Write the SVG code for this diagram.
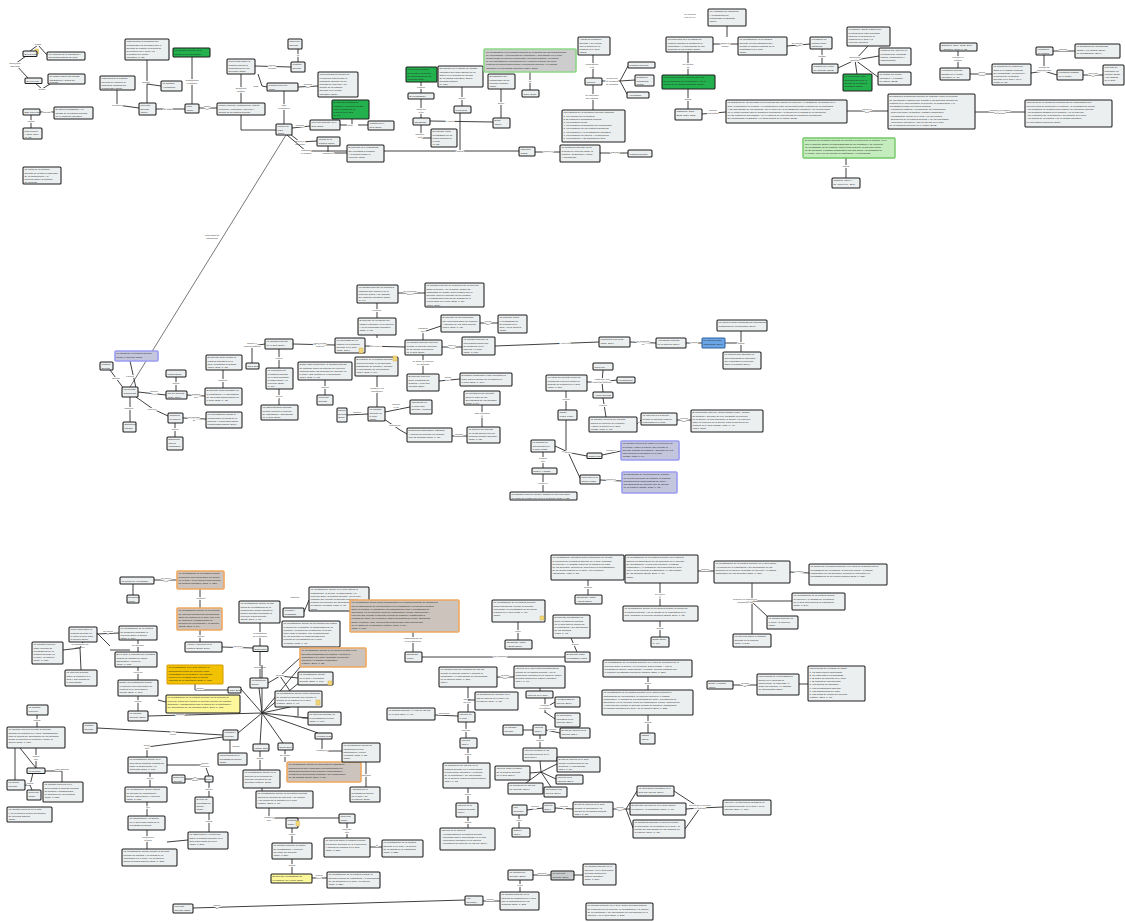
<svg xmlns="http://www.w3.org/2000/svg" width="1125" height="922" viewBox="0 0 1125 922">
<style>
.n rect{fill:#eceff0;stroke:#1e1e1e;stroke-width:1.05}
.g rect{fill:#23b14d}
.lg rect{fill:#c4ecbd;stroke:#72c866;stroke-width:1.4}
.gb rect{fill:#cdcdcd;stroke:#8bd886;stroke-width:1.6}
.o rect{fill:#cbc3bc;stroke:#f0a860;stroke-width:1.6}
.y rect{fill:#fbf79a}
.go rect{fill:#f2c200;stroke:#d89c00}
.b rect{fill:#c4c6de;stroke:#9a9cf0;stroke-width:1.6}
.bb rect{fill:#6aa6e6;stroke:#33609e}
.dk rect{fill:#c9cbcc}
text{font-family:"Liberation Sans",Arial,sans-serif;font-size:2.45px;fill:#222}
.c path{stroke:#2a2a2a;stroke-width:0.9;fill:none}
.c .long{stroke:#555;stroke-width:0.8}
.l{font-size:2.4px;fill:#333;text-anchor:middle;stroke:#fff;stroke-width:1.5px;paint-order:stroke}
.tag{fill:#f4d878;stroke:#c9a640;stroke-width:0.4}
</style>

<!-- connectors -->
<g id="connectors" class="c">
<path d="M30,51 L38,45 L47,55"/><text class="l" x="38" y="45">busca</text>
<path d="M26,56 L15,64 L28,78"/><text class="l" x="15" y="64">Diferentes</text><text class="l" x="15" y="67">aspectos</text>
<path d="M35,83 L42,89 L50,84"/><text class="l" x="42" y="90">busca</text>
<path d="M40,112 L54,112"/><text class="l" x="47" y="113">difunde</text>
<path d="M31,115 L31,128"/><text class="l" x="31" y="122">consta</text>

<path d="M117,90 L117,105 L139,108"/><text class="l" x="117" y="106">se define</text>
<path d="M147,103 L147,60"/><text class="l" x="146" y="83">aborda</text>
<path d="M147,84 L161,86"/>
<path d="M156,109 L185,109"/><text class="l" x="168" y="110">se basa</text>
<path d="M192,104 L192,57"/><text class="l" x="192" y="81">fundamenta</text><text class="l" x="192" y="84">el modelo</text>
<path d="M199,108 L217,108"/><text class="l" x="207" y="107">aplica</text><text class="l" x="207" y="110">en</text>
<path d="M241,103 L241,74"/><text class="l" x="241" y="89">desarrolla</text><text class="l" x="241" y="92">modelo</text>
<path d="M241,115 L241,130 L276,130"/>
<path d="M255,66 L291,67"/><text class="l" x="272" y="66">realiza</text><text class="l" x="272" y="69">revisión</text>
<path d="M298,62 L298,49"/><text class="l" x="298" y="56">en</text>
<path d="M258,74 L262,86 L267,87"/><text class="l" x="256" y="87">Digo</text>
<path d="M298,87 L318,86"/><text class="l" x="308" y="85">destaca</text><text class="l" x="308" y="88">que</text>
<path d="M284,91 L284,124"/><text class="l" x="284" y="106">fase</text><text class="l" x="284" y="109">evaluación</text>
<path d="M292,128 L310,126"/><text class="l" x="300" y="126">plantea</text>
<path d="M340,125 L352,125 L352,119"/><text class="l" x="350" y="126">ideal</text>
<path d="M358,125 L368,125"/>
<path d="M290,134 L300,142 L317,141"/><text class="l" x="300" y="142">define el</text><text class="l" x="300" y="145">concepto</text>
<path d="M328,146 L328,153 L347,153"/><text class="l" x="328" y="154">contribuye</text>
<path d="M286,135 L130,387" class="long"/><text class="l" x="212" y="236">Propuesta de</text><text class="l" x="212" y="239">integración</text>
<path d="M287,135 L306,151 L519,151"/><text class="l" x="306" y="151">posibilita</text><text class="l" x="306" y="154">el análisis</text>
<text class="l" x="460" y="152">aporta</text>
<path d="M460,150 L460,113"/>
<path d="M462,106 L462,87"/><text class="l" x="462" y="99">define</text>
<path d="M430,121 L493,122"/><text class="l" x="450" y="122">y otros</text>
<path d="M421,118 L421,99"/><text class="l" x="421" y="110">interpela</text><text class="l" x="421" y="113">a los</text>
<path d="M421,93 L421,82"/><text class="l" x="421" y="88">plantea</text>
<path d="M421,125 L421,138 L431,138"/><text class="l" x="420" y="135">sostiene</text><text class="l" x="420" y="138">que</text>
<path d="M501,118 L501,89"/><text class="l" x="501" y="104">define</text>
<path d="M530,72 L530,90"/><text class="l" x="530" y="82">en</text>
<path d="M535,152 L560,152"/><text class="l" x="548" y="152">concluye</text>
<path d="M600,153 L628,153"/><text class="l" x="615" y="153">aspecto</text>
<path d="M593,78 L593,55"/><text class="l" x="592" y="65">contribución</text><text class="l" x="592" y="68">a la</text>
<path d="M593,85 L593,110"/><text class="l" x="592" y="96">se interesan</text><text class="l" x="592" y="99">por estudiar</text>
<path d="M602,81 L620,81"/><text class="l" x="612" y="79">revisión de</text><text class="l" x="612" y="82">la literatura</text><text class="l" x="612" y="85">de estudios</text>
<path d="M620,81 L628,66 M620,81 L635,80 M620,81 L627,94"/>
<path d="M688,75 L688,52"/><text class="l" x="688" y="65">se integra</text><text class="l" x="688" y="68">en</text>
<path d="M713,44 L738,44"/><text class="l" x="725" y="44">según la</text><text class="l" x="725" y="47">autora</text>
<path d="M688,89 L688,109"/><text class="l" x="688" y="100">aporta</text>
<path d="M702,114 L726,112"/><text class="l" x="713" y="111">artículo</text><text class="l" x="713" y="114">propuesta</text>
<path d="M847,111 L888,111"/><text class="l" x="867" y="110">concluye</text><text class="l" x="867" y="113">que</text>
<path d="M975,112 L1025,112"/><text class="l" x="1000" y="111">propone un modelo</text><text class="l" x="1000" y="114">de gestión</text>
<path d="M727,26 L727,37"/><text class="l" x="690" y="15">en relación</text><text class="l" x="690" y="18">con la Ley</text>
<path d="M787,46 L810,44"/><text class="l" x="797" y="44">se orienta</text><text class="l" x="797" y="47">a</text>
<path d="M822,49 L822,64"/><text class="l" x="822" y="57">trabaja</text>
<path d="M838,68 L855,60 L868,46 M855,60 L879,56 M855,60 L857,74 M855,60 L878,77"/><text class="l" x="855" y="58">interacción</text><text class="l" x="855" y="61">docente</text>
<path d="M958,51 L958,68"/><text class="l" x="958" y="58">Propone el</text><text class="l" x="958" y="61">modelo</text>
<path d="M970,74 L992,74"/><text class="l" x="982" y="73">define</text><text class="l" x="982" y="76">como</text>
<path d="M1031,73 L1044,71 L1044,55 M1044,71 L1057,75"/><text class="l" x="1044" y="68">explica los</text><text class="l" x="1044" y="71">componentes</text>
<path d="M1053,51 L1075,51"/><text class="l" x="1063" y="50">dialoga</text>
<path d="M1083,75 L1103,75"/><text class="l" x="1093" y="74">proyecta</text><text class="l" x="1093" y="77">un</text>
<path d="M846,158 L846,178"/><text class="l" x="846" y="167">aporta</text>

<!-- central band -->
<path d="M136,388 L130,361"/><text class="l" x="130" y="377">explora</text>
<path d="M124,389 L110,370"/><text class="l" x="116" y="379">aborda</text>
<path d="M130,397 L130,422"/><text class="l" x="129" y="409">sostiene</text>
<path d="M138,392 L166,395"/><text class="l" x="154" y="392">analiza</text><text class="l" x="154" y="395">el rol</text>
<path d="M136,397 L153,409 L168,416"/><text class="l" x="152" y="410">reflexión</text>
<path d="M176,391 L176,377"/><text class="l" x="176" y="384">aporta</text>
<path d="M187,395 L205,396"/><text class="l" x="196" y="395">destaca</text><text class="l" x="196" y="398">que</text>
<path d="M223,388 L223,370"/><text class="l" x="223" y="381">sostiene</text>
<path d="M183,418 L206,419"/><text class="l" x="194" y="418">Necesidad</text><text class="l" x="194" y="421">de</text>
<path d="M175,423 L175,437"/><text class="l" x="175" y="430">aporta</text>
<path d="M252,363 L252,346 L265,344"/><text class="l" x="252" y="344">Diseño e</text><text class="l" x="252" y="347">implementación</text>
<path d="M279,349 L279,368"/><text class="l" x="279" y="359">evalúa</text>
<path d="M279,389 L279,405"/><text class="l" x="279" y="397">revela</text>
<path d="M293,344 L335,345"/><text class="l" x="320" y="344">Para ciertos</text><text class="l" x="320" y="347">autores</text>
<path d="M325,380 L325,395"/><text class="l" x="325" y="388">analiza</text>
<path d="M365,346 L405,347"/><text class="l" x="376" y="347">se refiere</text>
<path d="M377,338 L377,335"/><path d="M377,318 L377,303"/><text class="l" x="377" y="311">propone</text>
<path d="M398,293 L425,293"/><text class="l" x="410" y="292">se relaciona</text><text class="l" x="410" y="295">con lo</text>
<path d="M377,376 L377,407"/><text class="l" x="377" y="389">construye en</text><text class="l" x="377" y="392">interacción</text>
<path d="M368,414 L347,415"/><text class="l" x="357" y="413">alcanza</text>
<path d="M385,412 L410,407"/><text class="l" x="396" y="405">implica</text><text class="l" x="396" y="408">el rol</text>
<path d="M384,419 L400,430 L407,434"/><text class="l" x="395" y="426">desarrollar</text>
<path d="M452,436 L467,436"/><text class="l" x="459" y="435">permite</text>
<path d="M482,427 L482,405"/><text class="l" x="482" y="414">está orientada</text><text class="l" x="482" y="417">a</text>
<path d="M423,340 L423,332 L441,326"/><text class="l" x="423" y="329">posibilita</text><text class="l" x="423" y="332">que</text>
<path d="M480,323 L498,323"/><text class="l" x="488" y="322">puede</text><text class="l" x="488" y="325">ser</text>
<path d="M442,347 L462,347"/><text class="l" x="452" y="346">incluye</text><text class="l" x="452" y="349">el rol</text>
<path d="M495,346 L599,342"/><text class="l" x="565" y="344">y por ello</text>
<path d="M630,342 L656,343"/><text class="l" x="643" y="342">se presenta</text><text class="l" x="643" y="345">en</text>
<path d="M686,343 L702,343"/><text class="l" x="694" y="343">aporta</text>
<path d="M725,343 L741,343 L741,331 M741,343 L741,352"/><text class="l" x="741" y="344">aporta</text>
<path d="M423,355 L423,374"/><text class="l" x="423" y="362">se sitúa en relación</text><text class="l" x="423" y="365">de igualdad</text>
<path d="M439,381 L460,379"/><text class="l" x="448" y="378">puede</text><text class="l" x="448" y="381">ser</text>
<path d="M587,382 L602,382 L603,370 M602,382 L617,380 M602,382 L603,392"/><text class="l" x="602" y="380">establece una</text><text class="l" x="602" y="383">visión del docente</text>
<path d="M603,398 L606,417"/><text class="l" x="603" y="406">explica</text>
<path d="M566,391 L566,410"/><text class="l" x="566" y="400">explica</text>
<path d="M637,424 L641,420"/><text class="l" x="639" y="423">sí</text>
<path d="M677,420 L691,420"/><text class="l" x="684" y="419">explica</text><text class="l" x="684" y="422">que</text>
<path d="M566,420 L566,452 L587,456"/><text class="l" x="566" y="452">plantea</text>
<path d="M602,455 L621,451"/><text class="l" x="611" y="451">concluye</text>
<path d="M555,446 L568,452 L580,478"/><text class="l" x="568" y="453">define</text>
<path d="M600,480 L622,481"/><text class="l" x="611" y="480">concluye</text>
<path d="M543,452 L543,468"/><text class="l" x="543" y="459">plantea</text><text class="l" x="543" y="462">que</text>
<path d="M543,474 L543,492"/><text class="l" x="543" y="484">concluye</text>

<!-- lower band -->
<path d="M154,580 L177,580"/><text class="l" x="166" y="579">se refiere</text><text class="l" x="166" y="582">a la</text>
<path d="M133,584 L133,595"/>
<path d="M200,589 L200,608"/><text class="l" x="201" y="599">conduce</text>
<path d="M200,630 L200,642"/><text class="l" x="201" y="637">acción</text>
<path d="M222,647 L253,648"/><text class="l" x="238" y="647">reflexión</text>
<path d="M260,646 L260,623"/><text class="l" x="260" y="634">investigación</text><text class="l" x="260" y="637">de la práctica</text>
<path d="M260,651 L260,678"/><text class="l" x="260" y="668">procedente</text>
<path d="M268,683 L280,676 L300,658 M280,676 L298,678 M280,676 L290,691"/><text class="l" x="280" y="676">concibe</text>
<path d="M298,707 L298,718 L308,718"/><text class="l" x="298" y="718">aporta</text>
<path d="M304,612 L309,600"/><text class="l" x="295" y="598">sostiene</text>
<path d="M110,646 L97,633 M110,650 L130,650"/><text class="l" x="80" y="648">reflexión</text>
<path d="M63,650 L80,648 L83,642 M80,648 L81,670"/><text class="l" x="80" y="645">investigación de</text>
<path d="M97,634 L119,633"/><text class="l" x="108" y="632">se aplica</text><text class="l" x="108" y="635">a</text>
<path d="M138,640 L138,652"/><text class="l" x="138" y="646">se aprende</text>
<path d="M138,667 L138,680"/><text class="l" x="138" y="673">reflexión</text>
<path d="M138,696 L138,711"/><text class="l" x="138" y="702">aporta</text>
<path d="M158,700 L166,702"/>
<path d="M195,684 L195,690 L228,690"/><text class="l" x="200" y="689">opción</text>
<path d="M148,716 L262,713"/><text class="l" x="180" y="715">permite</text>
<path d="M241,689 L262,713 M262,713 L259,688 M262,713 L300,667 M262,713 L300,682 M262,713 L290,707 M262,713 L308,718 M262,713 L238,733 M262,713 L260,744 M262,713 L283,743 M262,713 L318,733 M262,713 L262,665"/>
<path d="M97,728 L173,732 L223,735"/><text class="l" x="173" y="732">usa</text><text class="l" x="173" y="735">como</text>
<path d="M230,740 L230,753"/><text class="l" x="236" y="747">aporta</text>
<path d="M223,737 L147,747 L147,757"/><text class="l" x="147" y="746">define</text><text class="l" x="147" y="749">que</text>
<path d="M150,773 L150,787"/><text class="l" x="150" y="779">por su</text>
<path d="M167,765 L205,765 L209,776"/><text class="l" x="205" y="764">acción</text><text class="l" x="205" y="767">reflexión</text>
<path d="M205,779 L185,779"/><text class="l" x="195" y="778">se</text><text class="l" x="195" y="781">aplica</text>
<path d="M209,782 L209,797"/><text class="l" x="209" y="790">diseño</text>
<path d="M209,813 L209,832"/><text class="l" x="209" y="822">aporta</text>
<path d="M147,802 L147,816"/><text class="l" x="148" y="808">por</text>
<path d="M147,830 L147,849"/><text class="l" x="148" y="838">concepción</text><text class="l" x="148" y="841">teórica</text>
<path d="M167,842 L188,840"/>
<path d="M260,751 L260,770"/><text class="l" x="260" y="759">aporta</text>
<path d="M262,788 L262,791"/>
<path d="M285,750 L285,762"/><text class="l" x="285" y="756">se centra</text>
<path d="M322,739 L322,751 L342,751"/><text class="l" x="322" y="751">contribuye</text>
<path d="M366,762 L366,787"/><text class="l" x="366" y="776">aspectos</text>
<path d="M269,808 L269,818 L339,818"/><text class="l" x="269" y="818">concluye</text><text class="l" x="269" y="821">que</text>
<path d="M292,828 L292,843"/><text class="l" x="292" y="835">efecto</text>
<path d="M292,859 L292,874"/><text class="l" x="292" y="866">aporta</text>
<path d="M312,878 L327,878"/><text class="l" x="319" y="876">evalúa</text><text class="l" x="319" y="879">que</text>
<path d="M347,823 L347,838"/><text class="l" x="347" y="830">aprende</text><text class="l" x="347" y="833">que</text>
<path d="M370,847 L382,847"/><text class="l" x="377" y="846">sí</text>

<path d="M37,715 L37,727"/><text class="l" x="37" y="721">aporta</text>
<path d="M20,748 L36,768"/><path d="M36,748 L36,758 L36,768"/><text class="l" x="36" y="757">aporta</text><text class="l" x="36" y="760">que</text>
<path d="M45,771 L62,771 L62,782"/><text class="l" x="62" y="770">este aspecto</text>
<path d="M33,773 L30,785 L25,785 M30,785 L32,790"/><text class="l" x="30" y="784">aporta</text>
<path d="M15,748 L15,780"/>

<path d="M413,632 L413,652"/><text class="l" x="413" y="639">planteamiento de</text><text class="l" x="413" y="642">la investigación</text>
<path d="M422,657 L565,657"/><text class="l" x="500" y="657">se relaciona</text>
<path d="M518,622 L518,640"/><text class="l" x="518" y="632">autor</text>
<path d="M571,638 L577,652"/><text class="l" x="575" y="645">aporta</text>
<path d="M588,580 L588,595"/><text class="l" x="588" y="588">autores</text>
<path d="M660,583 L660,606"/><text class="l" x="660" y="595">se refiere</text><text class="l" x="660" y="598">a</text>
<path d="M660,621 L660,637"/><text class="l" x="660" y="629">aporta</text>
<path d="M698,571 L714,571"/><text class="l" x="705" y="570">analiza</text>
<path d="M790,572 L809,573"/><text class="l" x="799" y="572">plantea</text>
<path d="M752,583 L752,634 M752,601 L792,601 M752,602 L767,616 M740,603 L752,601"/><text class="l" x="745" y="600">propone un modelo de</text><text class="l" x="745" y="603">análisis de las</text>
<path d="M648,677 L648,690"/><text class="l" x="648" y="684">define</text>
<path d="M648,715 L648,733"/><text class="l" x="648" y="723">aporta</text>
<path d="M733,685 L757,685"/><text class="l" x="745" y="684">revisión</text><text class="l" x="745" y="687">de</text>
<path d="M799,684 L808,684"/>

<path d="M497,677 L514,677"/><text class="l" x="505" y="676">permite</text><text class="l" x="505" y="679">que</text>
<path d="M468,687 L468,712"/><text class="l" x="467" y="700">uso de</text><text class="l" x="467" y="703">las TIC</text>
<path d="M475,700 L468,700"/>
<path d="M458,716 L435,715"/><text class="l" x="444" y="714">diferencia</text>
<path d="M466,722 L466,738"/><text class="l" x="466" y="731">aprende</text>
<path d="M468,748 L468,763"/><text class="l" x="468" y="755">aporta</text>
<path d="M468,788 L468,803"/><text class="l" x="468" y="795">define</text>
<path d="M468,817 L468,828"/><text class="l" x="468" y="823">aporta</text>
<path d="M540,691 L540,686 M545,698 L545,713 M555,702 L545,708 M555,719 L545,712"/><text class="l" x="545" y="706">propone</text><text class="l" x="545" y="709">la creación</text>
<path d="M523,730 L533,730 M546,730 L560,733"/><text class="l" x="552" y="730">explora</text>
<path d="M540,735 L540,748"/><text class="l" x="540" y="741">analiza</text>
<path d="M540,761 L541,772 L557,764 M541,772 L530,773 M541,772 L556,779 M541,772 L526,783 M541,772 L551,787"/>
<path d="M527,810 L543,808"/><text class="l" x="535" y="807">analiza</text><text class="l" x="535" y="810">en</text>
<path d="M555,808 L573,809"/><text class="l" x="564" y="807">explora</text><text class="l" x="564" y="810">el</text>
<path d="M613,809 L626,809 L637,791 M626,809 L630,809 M626,809 L633,828"/><text class="l" x="620" y="808">aporta</text><text class="l" x="620" y="811">que</text>
<path d="M674,791 L700,808 M686,809 L700,808 M685,829 L700,808 L723,807"/><text class="l" x="700" y="806">acerca de la sección</text><text class="l" x="700" y="809">de análisis</text>
<path d="M519,815 L519,828"/><text class="l" x="519" y="821">autor</text>
<path d="M647,744 L647,733"/>

<path d="M193,908 L465,900"/><text class="l" x="217" y="906">sesión</text><text class="l" x="217" y="909">de</text>
<path d="M483,901 L500,901"/><text class="l" x="490" y="900">realiza</text>
<path d="M520,892 L520,880"/><text class="l" x="520" y="886">inicia</text>
<path d="M533,875 L551,875"/><text class="l" x="542" y="874">asegura</text>
<path d="M574,875 L583,875"/>
</g>

<!-- nodes -->
<g id="tag1"><rect class="tag" x="35" y="49" width="3.5" height="5"/></g>
<g id="n1" class="n"><rect x="23" y="51" width="14" height="5.5" rx="1"/><text x="24.5" y="55">El Proyecto</text></g>
<g id="n2" class="n"><rect x="47" y="52" width="38" height="8" rx="1"/><text x="48.5" y="55.2">Ley general de la educación y</text><text x="48.5" y="58.4">las características del aula</text></g>
<g id="n3" class="n"><rect x="25" y="78" width="17" height="5.5" rx="1"/><text x="26.5" y="82">El Proyecto</text></g>
<g id="n4" class="n"><rect x="48" y="74" width="37" height="10" rx="1"/><text x="49.5" y="77.3">Se busca lograr una mirada</text><text x="49.5" y="80.5">integradora y crítica del</text><text x="49.5" y="83">proceso</text></g>
<g id="n5" class="n"><rect x="23" y="109" width="17" height="6" rx="1"/><text x="24.5" y="113">Este Proyecto</text></g>
<g id="n6" class="n"><rect x="54" y="107" width="39" height="12" rx="1"/><text x="55.5" y="110.3">El interés pedagógico y la</text><text x="55.5" y="113.5">mirada de la práctica docente</text><text x="55.5" y="116.7">en el contexto educativo</text></g>
<g id="n7" class="n"><rect x="23" y="128" width="19" height="11" rx="1"/><text x="24.5" y="131.5">Ros Moreno</text><text x="24.5" y="134.7">y otros, 2014</text><text x="24.5" y="137.8">(p. 12)</text></g>
<g id="n8" class="n"><rect x="23" y="167" width="38" height="17" rx="1"/><text x="24.5" y="170.4">La visión de la práctica</text><text x="24.5" y="173.6">docente se centra en aspectos</text><text x="24.5" y="176.8">de la planificación y la</text><text x="24.5" y="180">reflexión sobre la práctica</text><text x="24.5" y="183">del docente</text></g>

<g id="n9" class="n"><rect x="125" y="39" width="44" height="21" rx="1"/><text x="126.5" y="42.4">Para mejorar la formación del</text><text x="126.5" y="45.6">profesorado es necesario que el</text><text x="126.5" y="48.8">docente se plantee la mejora de</text><text x="126.5" y="52">su práctica en el aula y en</text><text x="126.5" y="55.2">la gestión del centro</text><text x="126.5" y="58.4">educativo (p. 23)</text></g>
<g id="n10" class="n g"><rect x="173" y="48" width="37" height="9" rx="1"/><text x="174.5" y="51.4">La práctica docente es la</text><text x="174.5" y="54.6">mejora de la enseñanza</text></g>
<g id="n11" class="n"><rect x="100" y="76" width="35" height="14" rx="1"/><text x="101.5" y="79.4">Para mejorar la práctica</text><text x="101.5" y="82.6">docente se requiere la</text><text x="101.5" y="85.8">formación continua del</text><text x="101.5" y="89">profesorado (2012)</text></g>
<g id="n12" class="n"><rect x="161" y="81" width="21" height="10" rx="1"/><text x="162.5" y="84.4">La práctica</text><text x="162.5" y="87.6">y formación</text></g>
<g id="n13" class="n"><rect x="139" y="103" width="17" height="12" rx="1"/><text x="140.5" y="106.4">Proyecto</text><text x="140.5" y="109.6">docente</text><text x="140.5" y="112.8">(2009)</text></g>
<g id="n14" class="n"><rect x="185" y="104" width="14" height="9" rx="1"/><text x="186.5" y="107.4">Sáez</text><text x="186.5" y="110.6">(2011)</text></g>
<g id="n15" class="n"><rect x="217" y="103" width="48" height="12" rx="1"/><text x="218.5" y="106.4">Modelo docente: Planificación, diseño,</text><text x="218.5" y="109.6">ejecución, evaluación, reflexión y</text><text x="218.5" y="112.8">mejora de la práctica docente</text></g>
<g id="n16" class="n"><rect x="227" y="59" width="28" height="15" rx="1"/><text x="228.5" y="62.4">Reflexionar sobre la</text><text x="228.5" y="65.6">práctica implica la</text><text x="228.5" y="68.8">participación de los</text><text x="228.5" y="72">docentes (2011)</text></g>
<g id="n17" class="n"><rect x="288" y="39" width="14" height="10" rx="1"/><text x="289.5" y="42.4">Reflexión</text><text x="289.5" y="45.6">docente</text></g>
<g id="n18" class="n"><rect x="291" y="62" width="14" height="10" rx="1"/><text x="292.5" y="65.4">Práctica</text><text x="292.5" y="68.6">docente</text></g>
<g id="n19" class="n"><rect x="267" y="83" width="31" height="8" rx="1"/><text x="268.5" y="86.4">Práctica reflexiva</text><text x="268.5" y="89.6">(2011)</text></g>
<g id="n20" class="n"><rect x="318" y="72" width="40" height="25" rx="1"/><text x="319.5" y="75.4">Los Procesos de mejora en</text><text x="319.5" y="78.6">el aula son claves para la</text><text x="319.5" y="81.8">formación docente en un</text><text x="319.5" y="85">proceso de reflexión y de</text><text x="319.5" y="88.2">mejora de la práctica</text><text x="319.5" y="91.4">docente en el centro</text><text x="319.5" y="94.6">educativo (2011)</text></g>
<g id="n21" class="n g"><rect x="332" y="100" width="37" height="19" rx="1"/><text x="333.5" y="103.4">El docente investiga su</text><text x="333.5" y="106.6">práctica y la de sus colegas</text><text x="333.5" y="109.8">para la mejora de la</text><text x="333.5" y="113">práctica en el aula</text><text x="333.5" y="116.2">(p. 24)</text></g>
<g id="n22" class="n"><rect x="276" y="124" width="16" height="11" rx="1"/><text x="277.5" y="127.4">Modelo de</text><text x="277.5" y="130.6">Sáez</text><text x="277.5" y="133.8">(2011)</text></g>
<g id="n23" class="n"><rect x="310" y="120" width="30" height="10" rx="1"/><text x="311.5" y="123.4">Proyecto docente en el</text><text x="311.5" y="126.6">aula (2011)</text></g>
<g id="n24" class="n"><rect x="368" y="121" width="26" height="9" rx="1"/><text x="369.5" y="124.4">Práctica en el</text><text x="369.5" y="127.6">aula (2011)</text></g>
<g id="n25" class="n"><rect x="317" y="137" width="23" height="9" rx="1"/><text x="318.5" y="140.4">Mejora de la</text><text x="318.5" y="143.6">práctica (2011)</text></g>
<g id="n26" class="n"><rect x="347" y="145" width="37" height="17" rx="1"/><text x="348.5" y="148.4">El docente es el profesional</text><text x="348.5" y="151.6">que investiga la práctica</text><text x="348.5" y="154.8">y la mejora desde la</text><text x="348.5" y="158">reflexión (2011)</text></g>

<g id="n27" class="n g"><rect x="406" y="67" width="31" height="15" rx="1"/><text x="407.5" y="70.4">La práctica docente</text><text x="407.5" y="73.6">se orienta a la mejora</text><text x="407.5" y="76.8">del aprendizaje de los</text><text x="407.5" y="80">alumnos (2011)</text></g>
<g id="n28" class="n"><rect x="438" y="66" width="45" height="21" rx="1"/><text x="439.5" y="69.4">El profesor es el agente de cambio</text><text x="439.5" y="72.6">educativo que debe asumir un rol</text><text x="439.5" y="75.8">activo en el proceso de mejora</text><text x="439.5" y="79">de la calidad educativa, según</text><text x="439.5" y="82.2">diversos autores</text><text x="439.5" y="85.4">(p. 124)</text></g>
<g id="n29" class="n"><rect x="408" y="93" width="26" height="6" rx="1"/><text x="409.5" y="97">El investigador</text></g>
<g id="n30" class="n"><rect x="488" y="74" width="27" height="15" rx="1"/><text x="489.5" y="77.4">El desarrollo del</text><text x="489.5" y="80.6">profesorado es un</text><text x="489.5" y="83.8">proceso continuo</text><text x="489.5" y="87">(2011)</text></g>
<g id="n31" class="n gb"><rect x="484" y="49" width="92" height="23" rx="1"/><text x="486" y="52.6">La investigación en la práctica docente se relaciona con las competencias</text><text x="486" y="55.8">del profesorado y los procesos de enseñanza y aprendizaje en el aula,</text><text x="486" y="59">promoviendo la reflexión crítica sobre la propia práctica y la mejora</text><text x="486" y="62.2">de los resultados de los alumnos en el contexto escolar, tal como</text><text x="486" y="65.4">plantean diversos autores sobre la formación docente y la calidad</text><text x="486" y="68.6">educativa en los centros escolares (Sáez, 2011)</text></g>
<g id="n32" class="n"><rect x="522" y="90" width="17" height="7" rx="1"/><text x="523.5" y="94.5">Sáez (2011)</text></g>
<g id="n33" class="n"><rect x="454" y="106" width="17" height="7" rx="1"/><text x="455.5" y="110.5">Perrenoud</text></g>
<g id="n34" class="n"><rect x="413" y="118" width="17" height="7" rx="1"/><text x="414.5" y="122.5">Stenhouse</text></g>
<g id="n35" class="n"><rect x="493" y="118" width="17" height="10" rx="1"/><text x="494.5" y="121.4">Elliott</text><text x="494.5" y="124.6">(2000)</text></g>
<g id="n36" class="n"><rect x="431" y="129" width="26" height="18" rx="1"/><text x="432.5" y="132.4">El profesor como</text><text x="432.5" y="135.6">investigador de su</text><text x="432.5" y="138.8">propia práctica en</text><text x="432.5" y="142">el aula</text><text x="432.5" y="145.2">(p. 85)</text></g>
<g id="n37" class="n"><rect x="519" y="147" width="16" height="9" rx="1"/><text x="520.5" y="150.4">Imbernón</text><text x="520.5" y="153.6">(2012)</text></g>
<g id="n38" class="n"><rect x="560" y="145" width="40" height="17" rx="1"/><text x="561.5" y="148.4">La formación docente es un</text><text x="561.5" y="151.6">proceso de reflexión sobre la</text><text x="561.5" y="154.8">práctica, colaborativo, crítico</text><text x="561.5" y="158">y permanente</text></g>
<g id="n39" class="n"><rect x="628" y="150" width="24" height="7" rx="1"/><text x="629.5" y="154.5">Práctica docente</text></g>
<g id="n40" class="n"><rect x="578" y="37" width="32" height="18" rx="1"/><text x="579.5" y="40.4">Aborda la formación</text><text x="579.5" y="43.6">docente y su vínculo</text><text x="579.5" y="46.8">con la mejora de la</text><text x="579.5" y="50">práctica en el aula</text><text x="579.5" y="53.2">(2012)</text></g>
<g id="n41" class="n"><rect x="585" y="78" width="17" height="7" rx="1"/><text x="586.5" y="82.5">Marcelo</text></g>
<g id="n42" class="n"><rect x="628" y="62" width="27" height="6" rx="1"/><text x="629.5" y="66">Práctica reflexiva</text></g>
<g id="n43" class="n"><rect x="635" y="75" width="19" height="11" rx="1"/><text x="636.5" y="78.4">Desarrollo</text><text x="636.5" y="81.6">profesional</text><text x="636.5" y="84.8">(2012)</text></g>
<g id="n44" class="n"><rect x="627" y="92" width="22" height="6" rx="1"/><text x="628.5" y="96">Aprendizaje</text></g>
<g id="n45" class="n"><rect x="562" y="110" width="63" height="32" rx="1"/><text x="563.5" y="113.4">Los estudios de la formación docente analizan:</text><text x="563.5" y="116.6">1. La relación con la práctica</text><text x="563.5" y="119.8">2. El desarrollo profesional docente</text><text x="563.5" y="123">3. La formación inicial</text><text x="563.5" y="126.2">4. La formación permanente del profesorado</text><text x="563.5" y="129.4">5. La formación en los centros educativos</text><text x="563.5" y="132.6">6. La formación y la investigación educativa</text><text x="563.5" y="135.8">7. La formación en las TIC y la innovación</text><text x="563.5" y="139">8. La formación y las prácticas de aula</text></g>
<g id="n46" class="n"><rect x="666" y="37" width="47" height="15" rx="1"/><text x="667.5" y="40.4">Los docentes que investigan su</text><text x="667.5" y="43.6">práctica mejoran la calidad de la</text><text x="667.5" y="46.8">enseñanza y el aprendizaje de los</text><text x="667.5" y="50">alumnos en los centros (2011)</text></g>
<g id="n47" class="n"><rect x="708" y="9" width="38" height="17" rx="1"/><text x="709.5" y="12.4">Ley orgánica de educación</text><text x="709.5" y="15.6">y la formación del</text><text x="709.5" y="18.8">profesorado en España</text><text x="709.5" y="22">(2006)</text></g>
<g id="n48" class="n"><rect x="738" y="37" width="49" height="18" rx="1"/><text x="739.5" y="40.4">La investigación en la práctica</text><text x="739.5" y="43.6">docente es una estrategia que</text><text x="739.5" y="46.8">permite la mejora continua de la</text><text x="739.5" y="50">enseñanza en el aula</text><text x="739.5" y="53.2">(2011)</text></g>
<g id="n49" class="n g"><rect x="662" y="75" width="53" height="14" rx="1"/><text x="663.5" y="78.4">La práctica docente reflexiva es el eje</text><text x="663.5" y="81.6">de la formación del profesorado y de la</text><text x="663.5" y="84.8">mejora de la calidad educativa (2011)</text></g>
<g id="n50" class="n"><rect x="675" y="109" width="27" height="11" rx="1"/><text x="676.5" y="112.4">Casanova, 2011,</text><text x="676.5" y="115.6">2012, 2013, 2015</text></g>
<g id="n51" class="n"><rect x="726" y="100" width="121" height="23" rx="1"/><text x="727.5" y="103.4">La formación de los docentes es un proceso que implica la reflexión y el análisis de la práctica en el</text><text x="727.5" y="106.6">aula, la formación en centros y la colaboración entre los docentes para la mejora de la enseñanza</text><text x="727.5" y="109.8">y del aprendizaje de los alumnos, con el apoyo de la investigación educativa y de la innovación</text><text x="727.5" y="113">en el centro escolar para el desarrollo profesional y la mejora de la calidad de la educación</text><text x="727.5" y="116.2">en los centros de secundaria y en el contexto de las políticas de formación permanente</text><text x="727.5" y="119.4">del profesorado en España y en otros países de la región (2012)</text></g>
<g id="n52" class="n"><rect x="888" y="94" width="87" height="35" rx="1"/><text x="889.5" y="97.4">El desarrollo profesional docente se entiende como un proceso</text><text x="889.5" y="100.6">de aprendizaje continuo que permite a los docentes mejorar su</text><text x="889.5" y="103.8">práctica en el aula mediante la reflexión, la colaboración y la</text><text x="889.5" y="107">investigación sobre su propia práctica:</text><text x="889.5" y="110.2">- Formación continua y permanente del profesorado</text><text x="889.5" y="113.4">- Reflexión sobre la práctica y trabajo colaborativo</text><text x="889.5" y="116.6">- Investigación acción en el aula y en los centros</text><text x="889.5" y="119.8">- Evaluación de la práctica docente y de los resultados</text><text x="889.5" y="123">- Innovación educativa y uso de las TIC en el aula</text><text x="889.5" y="126.2">  de la formación docente en el centro (2012)</text></g>
<g id="n53" class="n"><rect x="1025" y="100" width="87" height="27" rx="1"/><text x="1026.5" y="103.4">Las claves de la formación permanente del profesorado son</text><text x="1026.5" y="106.6">los proyectos de formación en centros y la investigación acción</text><text x="1026.5" y="109.8">- La formación en centros como modelo de formación docente</text><text x="1026.5" y="113">- La formación basada en la práctica y en la reflexión</text><text x="1026.5" y="116.2">- La evaluación de la formación y su impacto en el aula</text><text x="1026.5" y="119.4">- La mejora de la práctica y de la calidad educativa</text><text x="1026.5" y="122.6">  en los centros escolares (2013)</text></g>
<g id="n54" class="n"><rect x="810" y="37" width="22" height="12" rx="1"/><text x="811.5" y="40.4">Formación en</text><text x="811.5" y="43.6">centros como</text><text x="811.5" y="46.8">estrategia</text></g>
<g id="n55" class="n"><rect x="812" y="64" width="26" height="9" rx="1"/><text x="813.5" y="67.4">Práctica en el aula</text><text x="813.5" y="70.6">del docente (2012)</text></g>
<g id="n56" class="n"><rect x="847" y="27" width="43" height="19" rx="1"/><text x="848.5" y="30.4">Fernández (2012) plantea que</text><text x="848.5" y="33.6">la interacción entre docentes</text><text x="848.5" y="36.8">favorece la mejora de la</text><text x="848.5" y="40">práctica en el aula y la</text><text x="848.5" y="43.2">reflexión colectiva</text></g>
<g id="n57" class="n g"><rect x="843" y="74" width="29" height="17" rx="1"/><text x="844.5" y="77.4">La interacción entre</text><text x="844.5" y="80.6">docentes favorece la</text><text x="844.5" y="83.8">mejora de la práctica</text><text x="844.5" y="87">educativa (2012)</text></g>
<g id="n58" class="n"><rect x="879" y="48" width="32" height="17" rx="1"/><text x="880.5" y="51.4">Factores que influyen en</text><text x="880.5" y="54.6">la interacción: liderazgo,</text><text x="880.5" y="57.8">cultura, colaboración y</text><text x="880.5" y="61">comunicación</text></g>
<g id="n59" class="n"><rect x="878" y="72" width="33" height="13" rx="1"/><text x="879.5" y="75.4">La cultura del centro</text><text x="879.5" y="78.6">educativo y el trabajo</text><text x="879.5" y="81.8">en equipo (2012)</text></g>
<g id="n60" class="n"><rect x="940" y="43" width="37" height="8" rx="1"/><text x="941.5" y="46.4">Escudero, 2010, 2012, 2014</text><text x="941.5" y="49.6">y Sánchez, 2013 (p. 32)</text></g>
<g id="n61" class="n"><rect x="940" y="68" width="30" height="12" rx="1"/><text x="941.5" y="71.4">Formación docente</text><text x="941.5" y="74.6">basada en el centro</text><text x="941.5" y="77.8">educativo (p. 45)</text></g>
<g id="n62" class="n"><rect x="992" y="64" width="39" height="21" rx="1"/><text x="993.5" y="67.4">La formación en centros se</text><text x="993.5" y="70.6">basa en el trabajo conjunto</text><text x="993.5" y="73.8">del profesorado, la reflexión y</text><text x="993.5" y="77">la mejora de la práctica</text><text x="993.5" y="80.2">docente en el aula y en el</text><text x="993.5" y="83.4">centro (p. 56)</text></g>
<g id="n63" class="n"><rect x="1036" y="47" width="17" height="8" rx="1"/><text x="1037.5" y="50.4">Formación</text><text x="1037.5" y="53.6">en centros</text></g>
<g id="n64" class="n"><rect x="1075" y="44" width="45" height="14" rx="1"/><text x="1076.5" y="47.4">La formación del profesorado</text><text x="1076.5" y="50.6">(2012) y en centros (2013)</text><text x="1076.5" y="53.8">La investigación (2014)</text></g>
<g id="n65" class="n"><rect x="1057" y="70" width="26" height="10" rx="1"/><text x="1058.5" y="73.4">Formación basada</text><text x="1058.5" y="76.6">en el centro</text></g>
<g id="n66" class="n"><rect x="1103" y="65" width="21" height="20" rx="1"/><text x="1104.5" y="68.4">Proyecto de</text><text x="1104.5" y="71.6">formación en</text><text x="1104.5" y="74.8">centros (2012)</text><text x="1104.5" y="78">y su impacto</text><text x="1104.5" y="81.2">en el aula</text></g>
<g id="n67" class="n lg"><rect x="803" y="138" width="92" height="20" rx="1"/><text x="805" y="141.4">El proceso de formación docente se orienta a la mejora de la práctica, en el</text><text x="805" y="144.6">que el docente asume la responsabilidad de su formación y se convierte</text><text x="805" y="147.8">en investigador de su práctica, para lo cual requiere la reflexión crítica</text><text x="805" y="151">de su quehacer, el trabajo colaborativo con sus pares y la formación en</text><text x="805" y="154.2">el centro, con el fin de mejorar la enseñanza y el aprendizaje</text></g>
<g id="n68" class="n"><rect x="832" y="178" width="28" height="10" rx="1"/><text x="833.5" y="181.4">Martínez, 2009, y</text><text x="833.5" y="184.6">de Vries et al., 2014</text></g>

<!-- central band nodes -->
<g id="n69" class="n b"><rect x="115" y="351" width="43" height="10" rx="1"/><text x="116.5" y="354.4">La mirada de la práctica docente</text><text x="116.5" y="357.6">desde el docente (2011)</text></g>
<g id="n70" class="n"><rect x="100" y="362" width="13" height="8" rx="1"/><text x="101.5" y="365.4">Práctica</text><text x="101.5" y="368.6">docente</text></g>
<g id="n71" class="n"><rect x="122" y="387" width="16" height="10" rx="1"/><text x="123.5" y="390.4">Los Temas</text><text x="123.5" y="393.6">Transversal</text></g>
<g id="n72" class="n"><rect x="123" y="422" width="13" height="10" rx="1"/><text x="124.5" y="425.4">Educación</text><text x="124.5" y="428.6">integral</text></g>
<g id="n73" class="n"><rect x="166" y="370" width="20" height="7" rx="1"/><text x="167.5" y="374.5">Participación</text></g>
<g id="n74" class="n"><rect x="166" y="391" width="21" height="8" rx="1"/><text x="167.5" y="394.4">Rol del docente</text><text x="167.5" y="397.6">(2011, 2014)</text></g>
<g id="n75" class="n"><rect x="168" y="413" width="15" height="10" rx="1"/><text x="169.5" y="416.4">Temas de</text><text x="169.5" y="419.6">la escuela</text></g>
<g id="n76" class="n"><rect x="167" y="437" width="16" height="13" rx="1"/><text x="168.5" y="440.4">Educación</text><text x="168.5" y="443.6">para la</text><text x="168.5" y="446.8">ciudadanía</text></g>
<g id="n77" class="n"><rect x="206" y="355" width="36" height="15" rx="1"/><text x="207.5" y="358.4">El docente debe mediar la</text><text x="207.5" y="361.6">práctica educativa en el</text><text x="207.5" y="364.8">aula, orientando al alumno</text><text x="207.5" y="368">(Sáez, 2011, p. 35)</text></g>
<g id="n78" class="n"><rect x="205" y="388" width="37" height="17" rx="1"/><text x="206.5" y="391.4">El docente como mediador en</text><text x="206.5" y="394.6">la enseñanza y el aprendizaje</text><text x="206.5" y="397.8">de los temas transversales en</text><text x="206.5" y="401">el aula (2011, p. 42)</text></g>
<g id="n79" class="n"><rect x="206" y="412" width="36" height="16" rx="1"/><text x="207.5" y="415.4">La necesidad de formar al</text><text x="207.5" y="418.6">profesorado en temas de la</text><text x="207.5" y="421.8">escuela y la sociedad actual,</text><text x="207.5" y="425">temas transversales (2014)</text></g>
<g id="n80" class="n"><rect x="246" y="363" width="13" height="6" rx="1"/><text x="247.5" y="367">Sáez 2011</text></g>
<g id="n81" class="n"><rect x="265" y="339" width="28" height="10" rx="1"/><text x="266.5" y="342.4">La práctica docente</text><text x="266.5" y="345.6">en el aula (2011)</text></g>
<g id="n82" class="n"><rect x="266" y="368" width="27" height="21" rx="1"/><text x="267.5" y="371.4">La evaluación de</text><text x="267.5" y="374.6">la práctica docente</text><text x="267.5" y="377.8">en el aula mediante</text><text x="267.5" y="381">la observación y la</text><text x="267.5" y="384.2">reflexión (2011)</text><text x="267.5" y="387.4">(p. 56)</text></g>
<g id="n83" class="n"><rect x="261" y="405" width="37" height="15" rx="1"/><text x="262.5" y="408.4">La autoevaluación docente</text><text x="262.5" y="411.6">permite mejorar el proceso</text><text x="262.5" y="414.8">de enseñanza y aprendizaje</text><text x="262.5" y="418">en el aula (2011)</text></g>
<g id="n84" class="n"><rect x="298" y="362" width="54" height="18" rx="1"/><text x="299.5" y="365.4">Desde esta perspectiva, la práctica docente</text><text x="299.5" y="368.6">se entiende como un proceso de reflexión</text><text x="299.5" y="371.8">continua sobre las acciones del docente en</text><text x="299.5" y="375">el aula y sus efectos en el aprendizaje</text><text x="299.5" y="378.2">(Sáez, 2011, p. 62)</text></g>
<g id="n85" class="n"><rect x="317" y="395" width="16" height="10" rx="1"/><text x="318.5" y="398.4">Reflexión</text><text x="318.5" y="401.6">docente</text></g>
<g id="n86" class="n"><rect x="335" y="338" width="30" height="15" rx="1"/><text x="336.5" y="341.4">La necesidad de un</text><text x="336.5" y="344.6">cambio en la práctica</text><text x="336.5" y="347.8">docente en el aula</text><text x="336.5" y="351">(2011, 2014)</text></g>
<g id="tag2"><rect class="tag" x="359" y="348" width="4" height="5"/></g>
<g id="n87" class="n"><rect x="357" y="285" width="41" height="18" rx="1"/><text x="358.5" y="288.4">La práctica docente es una tarea</text><text x="358.5" y="291.6">compleja que requiere de la</text><text x="358.5" y="294.8">reflexión crítica y del análisis</text><text x="358.5" y="298">del contexto educativo (2011)</text><text x="358.5" y="301.2">(p. 74)</text></g>
<g id="n88" class="n"><rect x="358" y="318" width="38" height="17" rx="1"/><text x="359.5" y="321.4">El docente es un agente del</text><text x="359.5" y="324.6">cambio educativo en la escuela</text><text x="359.5" y="327.8">y en la comunidad educativa</text><text x="359.5" y="331">(2011, p. 78)</text></g>
<g id="n89" class="n"><rect x="425" y="283" width="59" height="24" rx="1"/><text x="426.5" y="286.4">La práctica docente se relaciona con la reflexión</text><text x="426.5" y="289.6">sobre la acción y en la acción, según los</text><text x="426.5" y="292.8">postulados de Schön, quien plantea que el</text><text x="426.5" y="296">docente reflexivo aprende de su práctica</text><text x="426.5" y="299.2">y la transforma a través del análisis de la</text><text x="426.5" y="302.4">experiencia en el aula (2011, p. 80)</text><text x="426.5" y="305.6">(Sáez, 2011)</text></g>
<g id="n90" class="n"><rect x="355" y="357" width="43" height="19" rx="1"/><text x="356.5" y="360.4">El enfoque de la práctica docente</text><text x="356.5" y="363.6">reflexiva permite a los docentes</text><text x="356.5" y="366.8">transformar su práctica y mejorar</text><text x="356.5" y="370">el aprendizaje de los alumnos</text><text x="356.5" y="373.2">(Sáez, 2011, p. 84)</text></g>
<g id="tag3"><rect class="tag" x="393" y="356" width="4" height="5"/></g>
<g id="n91" class="n"><rect x="368" y="407" width="17" height="14" rx="1"/><text x="369.5" y="410.4">La práctica</text><text x="369.5" y="413.6">docente en</text><text x="369.5" y="416.8">el aula</text><text x="369.5" y="420">(2011)</text></g>
<g id="n92" class="n"><rect x="337" y="408" width="10" height="14" rx="1"/><text x="338" y="411.4">Equipo</text><text x="338" y="414.6">docente</text><text x="338" y="417.8">(2011)</text></g>
<g id="n93" class="n"><rect x="410" y="400" width="22" height="14" rx="1"/><text x="411.5" y="403.4">Interacción en</text><text x="411.5" y="406.6">el aula entre</text><text x="411.5" y="409.8">docente y alumno</text></g>
<g id="n94" class="n"><rect x="407" y="428" width="45" height="14" rx="1"/><text x="408.5" y="431.4">Desarrollar habilidades, actitudes</text><text x="408.5" y="434.6">y valores del docente en relación</text><text x="408.5" y="437.8">con los alumnos (2011, p. 90)</text></g>
<g id="n95" class="n"><rect x="467" y="427" width="33" height="16" rx="1"/><text x="468.5" y="430.4">La función del docente</text><text x="468.5" y="433.6">en la interacción con los</text><text x="468.5" y="436.8">alumnos permite aprender</text><text x="468.5" y="440">(2011, p. 92)</text></g>
<g id="n96" class="n"><rect x="464" y="391" width="36" height="14" rx="1"/><text x="465.5" y="394.4">La orientación del docente</text><text x="465.5" y="397.6">hacia el logro de los</text><text x="465.5" y="400.8">aprendizajes de los alumnos</text><text x="465.5" y="404">(2011, p. 94)</text></g>
<g id="n97" class="n"><rect x="405" y="340" width="37" height="15" rx="1"/><text x="406.5" y="343.4">La práctica docente reflexiva</text><text x="406.5" y="346.6">permite al docente aprender</text><text x="406.5" y="349.8">de su propia experiencia</text><text x="406.5" y="353">en el aula (2011)</text></g>
<g id="n98" class="n"><rect x="441" y="315" width="39" height="17" rx="1"/><text x="442.5" y="318.4">El docente es un profesional</text><text x="442.5" y="321.6">que reflexiona sobre su práctica</text><text x="442.5" y="324.8">y aprende de ella para mejorar</text><text x="442.5" y="328">(Sáez, 2011, p. 98)</text></g>
<g id="n99" class="n"><rect x="498" y="315" width="29" height="18" rx="1"/><text x="499.5" y="318.4">Un docente crítico</text><text x="499.5" y="321.6">e investigador de</text><text x="499.5" y="324.8">su práctica en el</text><text x="499.5" y="328">aula y en la escuela</text><text x="499.5" y="331.2">(2011)</text></g>
<g id="n100" class="n"><rect x="462" y="337" width="33" height="18" rx="1"/><text x="463.5" y="340.4">La práctica docente es</text><text x="463.5" y="343.6">una práctica social que</text><text x="463.5" y="346.8">se desarrolla en la</text><text x="463.5" y="350">escuela y el aula</text><text x="463.5" y="353.2">(2011, p. 100)</text></g>
<g id="n101" class="n"><rect x="407" y="374" width="32" height="17" rx="1"/><text x="408.5" y="377.4">El docente reflexivo</text><text x="408.5" y="380.6">debe cuestionar su</text><text x="408.5" y="383.8">práctica y la de sus</text><text x="408.5" y="387">colegas (2011)</text></g>
<g id="n102" class="n"><rect x="460" y="373" width="52" height="13" rx="1"/><text x="461.5" y="376.4">El trabajo colaborativo entre docentes es</text><text x="461.5" y="379.6">clave para la mejora de la práctica en</text><text x="461.5" y="382.8">el aula (2011, p. 104)</text></g>
<g id="n103" class="n"><rect x="599" y="337" width="31" height="10" rx="1"/><text x="600.5" y="340.4">Profesores reflexivos</text><text x="600.5" y="343.6">(2011, 2014)</text></g>
<g id="n104" class="n"><rect x="656" y="338" width="30" height="10" rx="1"/><text x="657.5" y="341.4">Aprendizaje docente</text><text x="657.5" y="344.6">en la escuela (2014)</text></g>
<g id="n105" class="n bb"><rect x="702" y="338" width="23" height="10" rx="1"/><text x="703.5" y="341.4">La escuela como</text><text x="703.5" y="344.6">comunidad (2014)</text></g>
<g id="n106" class="n"><rect x="717" y="320" width="50" height="11" rx="1"/><text x="718.5" y="323.4">La escuela como comunidad de aprendizaje</text><text x="718.5" y="326.6">profesional de los docentes (2014)</text></g>
<g id="n107" class="n"><rect x="723" y="352" width="38" height="17" rx="1"/><text x="724.5" y="355.4">La escuela que aprende es</text><text x="724.5" y="358.6">una comunidad de docentes</text><text x="724.5" y="361.8">que comparten la reflexión</text><text x="724.5" y="365">sobre la práctica (2014)</text></g>
<g id="n108" class="n"><rect x="593" y="363" width="20" height="7" rx="1"/><text x="594.5" y="367.5">Reflexión</text></g>
<g id="n109" class="n"><rect x="546" y="375" width="41" height="16" rx="1"/><text x="547.5" y="378.4">La visión del docente como un</text><text x="547.5" y="381.6">profesional reflexivo capaz de</text><text x="547.5" y="384.8">analizar su práctica en el aula</text><text x="547.5" y="388">(2011, p. 110)</text></g>
<g id="n110" class="n"><rect x="617" y="377" width="18" height="6" rx="1"/><text x="618.5" y="381">Investigación</text></g>
<g id="n111" class="n"><rect x="593" y="392" width="20" height="6" rx="1"/><text x="594.5" y="396">Acción docente</text></g>
<g id="n112" class="n"><rect x="558" y="410" width="19" height="10" rx="1"/><text x="559.5" y="413.4">Schön</text><text x="559.5" y="416.6">(1983, 1987)</text></g>
<g id="n113" class="n"><rect x="589" y="417" width="48" height="15" rx="1"/><text x="590.5" y="420.4">La práctica reflexiva del docente</text><text x="590.5" y="423.6">implica la reflexión en la acción</text><text x="590.5" y="426.8">y sobre la acción en el aula</text><text x="590.5" y="430">(Schön, 1987, p. 33)</text></g>
<g id="n114" class="n"><rect x="641" y="413" width="36" height="12" rx="1"/><text x="642.5" y="416.4">La reflexión en la acción</text><text x="642.5" y="419.6">permite al docente resolver</text><text x="642.5" y="422.8">problemas en el aula</text></g>
<g id="n115" class="n"><rect x="691" y="410" width="72" height="22" rx="1"/><text x="692.5" y="413.4">El profesional reflexivo, según Schön (1987), analiza</text><text x="692.5" y="416.6">su práctica y aprende de ella, mediante la reflexión</text><text x="692.5" y="419.8">en la acción, la reflexión sobre la acción y la reflexión</text><text x="692.5" y="423">sobre la reflexión en la acción, para la mejora de su</text><text x="692.5" y="426.2">práctica en el aula (Schön, 1987, p. 40)</text><text x="692.5" y="429.4">(Sáez, 2011)</text></g>
<g id="n116" class="n"><rect x="587" y="453" width="15" height="5.5" rx="1"/><text x="588.5" y="457">Schön 1983</text></g>
<g id="n117" class="n b"><rect x="621" y="441" width="58" height="19" rx="1"/><text x="622.5" y="444.4">La práctica reflexiva se basa en la reflexión en</text><text x="622.5" y="447.6">la acción y sobre la acción, que permite al</text><text x="622.5" y="450.8">docente analizar su práctica y aprender de ella</text><text x="622.5" y="454">para mejorar su quehacer en el aula</text><text x="622.5" y="457.2">(Schön, 1983, p. 54)</text></g>
<g id="n118" class="n"><rect x="531" y="440" width="24" height="12" rx="1"/><text x="532.5" y="443.4">La práctica de</text><text x="532.5" y="446.6">los docentes en</text><text x="532.5" y="449.8">el aula (1983)</text></g>
<g id="n119" class="n"><rect x="532" y="468" width="25" height="6" rx="1"/><text x="533.5" y="472">Dewey y Schön</text></g>
<g id="n120" class="n"><rect x="580" y="475" width="20" height="9" rx="1"/><text x="581.5" y="478.4">Reflexión en la</text><text x="581.5" y="481.6">acción (1983)</text></g>
<g id="n121" class="n b"><rect x="622" y="472" width="55" height="21" rx="1"/><text x="623.5" y="475.4">El aprendizaje de los docentes se produce</text><text x="623.5" y="478.6">en la reflexión sobre su práctica, al analizar</text><text x="623.5" y="481.8">las situaciones problemáticas del aula y</text><text x="623.5" y="485">las estrategias de solución que se aplican</text><text x="623.5" y="488.2">en la práctica (Schön, 1983, p. 62)</text></g>
<g id="n122" class="n"><rect x="510" y="492" width="67" height="8" rx="1"/><text x="511.5" y="495.4">La práctica reflexiva: Dewey plantea la reflexión como</text><text x="511.5" y="498.6">un modo de pensar que lleva a la acción (1989, p. 22)</text></g>

<!-- lower band nodes -->
<g id="n123" class="n"><rect x="120" y="577" width="34" height="7" rx="1"/><text x="121.5" y="581.5">La acción de "investigar"</text></g>
<g id="n124" class="n o"><rect x="177" y="571" width="47" height="18" rx="1"/><text x="178.5" y="574.4">La investigación de la práctica permite</text><text x="178.5" y="577.6">al docente reflexionar sobre su acción</text><text x="178.5" y="580.8">en el aula y en la escuela para mejorar</text><text x="178.5" y="584">su práctica educativa (2011, p. 120)</text></g>
<g id="n125" class="n"><rect x="127" y="595" width="12" height="8" rx="1"/><text x="128" y="598.4">Stenhouse</text><text x="128" y="601.6">(1987)</text></g>
<g id="n126" class="n o"><rect x="177" y="608" width="45" height="22" rx="1"/><text x="178.5" y="611.4">La investigación acción es un proceso</text><text x="178.5" y="614.6">de reflexión colectiva de los docentes</text><text x="178.5" y="617.8">sobre su práctica en el aula, con el fin</text><text x="178.5" y="621">de mejorarla y transformarla en</text><text x="178.5" y="624.2">beneficio de los alumnos y la escuela</text><text x="178.5" y="627.4">(Elliott, 2000, p. 24)</text></g>
<g id="n127" class="n"><rect x="185" y="642" width="37" height="10" rx="1"/><text x="186.5" y="645.4">Acción y reflexión en la</text><text x="186.5" y="648.6">práctica (Elliott, 2000)</text></g>
<g id="n128" class="n"><rect x="253" y="646" width="15" height="5.5" rx="1"/><text x="254.5" y="650">Elliott 2000</text></g>
<g id="n129" class="n"><rect x="239" y="601" width="41" height="22" rx="1"/><text x="240.5" y="604.4">La investigación acción es una</text><text x="240.5" y="607.6">forma de investigación de la</text><text x="240.5" y="610.8">práctica que busca mejorar la</text><text x="240.5" y="614">acción educativa mediante la</text><text x="240.5" y="617.2">reflexión crítica docente</text><text x="240.5" y="620.4">(Elliott, 2000, p. 30)</text></g>
<g id="n130" class="n"><rect x="309" y="587" width="60" height="24" rx="1"/><text x="310.5" y="590.4">La investigación acción en el aula implica la</text><text x="310.5" y="593.6">planificación, la acción, la observación y la</text><text x="310.5" y="596.8">reflexión sobre la práctica docente, en un ciclo</text><text x="310.5" y="600">continuo que permite al docente mejorar su</text><text x="310.5" y="603.2">práctica en beneficio del aprendizaje y de</text><text x="310.5" y="606.4">la escuela (Kemmis, 1988, p. 42)</text><text x="310.5" y="609.6">(2011)</text></g>
<g id="n131" class="n"><rect x="283" y="608" width="21" height="9" rx="1"/><text x="284.5" y="611.4">Kemmis y</text><text x="284.5" y="614.6">McTaggart</text></g>
<g id="n132" class="n o"><rect x="350" y="600" width="109" height="32" rx="1"/><text x="351.5" y="603.4">La investigación acción como metodología en la práctica docente se caracteriza</text><text x="351.5" y="606.6">por la participación de los docentes en la investigación, la reflexión colectiva</text><text x="351.5" y="609.8">sobre la práctica, el análisis de los problemas del aula y la búsqueda de</text><text x="351.5" y="613">soluciones, en un proceso cíclico de planificación, acción, observación y</text><text x="351.5" y="616.2">reflexión que permite al docente mejorar su práctica y transformar la</text><text x="351.5" y="619.4">realidad del aula y de la escuela, según los aportes de Lewin, Stenhouse,</text><text x="351.5" y="622.6">Elliott, Kemmis y Carr, quienes han desarrollado esta metodología</text><text x="351.5" y="625.8">en el campo de la educación (Latorre, 2003, p. 24)</text><text x="351.5" y="629">(2011, p. 130)</text></g>
<g id="n133" class="n"><rect x="282" y="621" width="58" height="26" rx="1"/><text x="283.5" y="624.4">La investigación acción es un proceso que busca</text><text x="283.5" y="627.6">la mejora de la práctica, la comprensión de la</text><text x="283.5" y="630.8">práctica y la mejora de la situación en la que</text><text x="283.5" y="634">tiene lugar la práctica, con la participación</text><text x="283.5" y="637.2">de los docentes en todas las fases del</text><text x="283.5" y="640.4">proceso de investigación en el aula</text><text x="283.5" y="643.6">(Kemmis, 1988, p. 45)</text></g>
<g id="n134" class="n o"><rect x="300" y="648" width="66" height="19" rx="1"/><text x="301.5" y="651.4">La investigación acción en la escuela permite a los</text><text x="301.5" y="654.6">docentes transformar su práctica y mejorar la</text><text x="301.5" y="657.8">enseñanza en el aula, mediante la reflexión</text><text x="301.5" y="661">colectiva y el trabajo colaborativo</text><text x="301.5" y="664.2">(Latorre, 2003, p. 32)</text></g>
<g id="n135" class="n"><rect x="250" y="678" width="18" height="10" rx="1"/><text x="251.5" y="681.4">Investigación</text><text x="251.5" y="684.6">acción</text></g>
<g id="n136" class="n"><rect x="298" y="672" width="35" height="13" rx="1"/><text x="299.5" y="675.4">La investigación acción</text><text x="299.5" y="678.6">en el aula y la práctica</text><text x="299.5" y="681.8">docente (2011, p. 140)</text></g>
<g id="tag4"><rect class="tag" x="328" y="681" width="4" height="4"/></g>
<g id="n137" class="n"><rect x="275" y="691" width="47" height="16" rx="1"/><text x="276.5" y="694.4">La investigación acción como estrategia</text><text x="276.5" y="697.6">de formación docente que permite la</text><text x="276.5" y="700.8">mejora de la práctica en el aula</text><text x="276.5" y="704">(Latorre, 2003, p. 40)</text></g>
<g id="tag5"><rect class="tag" x="316" y="700" width="4" height="5"/></g>
<g id="n138" class="n"><rect x="308" y="712" width="33" height="13" rx="1"/><text x="309.5" y="715.4">La reflexión docente en</text><text x="309.5" y="718.6">la investigación acción</text><text x="309.5" y="721.8">(2011, p. 145)</text></g>
<g id="n139" class="n go"><rect x="167" y="665" width="56" height="19" rx="1"/><text x="168.5" y="668.4">La investigación en el aula requiere la</text><text x="168.5" y="671.6">participación activa del docente como</text><text x="168.5" y="674.8">investigador de su práctica y del análisis</text><text x="168.5" y="678">reflexivo de la misma para la mejora</text><text x="168.5" y="681.2">continua de la enseñanza (2011, p. 150)</text></g>
<g id="n140" class="n"><rect x="228" y="687" width="13" height="6" rx="1"/><text x="229.5" y="691">Sáez 2011</text></g>
<g id="n141" class="n y"><rect x="166" y="695" width="74" height="18" rx="1"/><text x="167.5" y="698.4">La investigación de la práctica docente es un proceso de</text><text x="167.5" y="701.6">reflexión crítica que permite al docente conocer su práctica,</text><text x="167.5" y="704.8">analizarla y transformarla para la mejora de la enseñanza y</text><text x="167.5" y="708">del aprendizaje de los alumnos (Sáez, 2011, p. 155)</text></g>
<g id="n142" class="n"><rect x="128" y="711" width="20" height="10" rx="1"/><text x="129.5" y="714.4">La práctica</text><text x="129.5" y="717.6">docente (2011)</text></g>
<g id="n143" class="n"><rect x="118" y="680" width="40" height="16" rx="1"/><text x="119.5" y="683.4">Desde la investigación acción,</text><text x="119.5" y="686.6">el docente reflexiona sobre su</text><text x="119.5" y="689.8">práctica en el aula para la</text><text x="119.5" y="693">mejora (2011, p. 160)</text></g>
<g id="n144" class="n"><rect x="115" y="652" width="42" height="15" rx="1"/><text x="116.5" y="655.4">En el aula, el docente que investiga</text><text x="116.5" y="658.6">analiza su práctica de forma</text><text x="116.5" y="661.8">sistemática y reflexiva</text><text x="116.5" y="665">(2011, p. 165)</text></g>
<g id="n145" class="n"><rect x="119" y="626" width="38" height="14" rx="1"/><text x="120.5" y="629.4">La investigación de la práctica</text><text x="120.5" y="632.6">se desarrolla mediante la</text><text x="120.5" y="635.8">reflexión sobre la acción</text><text x="120.5" y="639">(2011, p. 170)</text></g>
<g id="n146" class="n"><rect x="69" y="627" width="28" height="15" rx="1"/><text x="70.5" y="630.4">Reflexionar sobre la</text><text x="70.5" y="633.6">práctica docente en</text><text x="70.5" y="636.8">el aula es clave para</text><text x="70.5" y="640">la mejora (2011)</text></g>
<g id="n147" class="n"><rect x="32" y="642" width="31" height="22" rx="1"/><text x="33.5" y="645.4">La práctica reflexiva</text><text x="33.5" y="648.6">como proceso de</text><text x="33.5" y="651.8">investigación de la</text><text x="33.5" y="655">práctica docente en</text><text x="33.5" y="658.2">el aula y la escuela</text><text x="33.5" y="661.4">(2011, p. 175)</text></g>
<g id="n148" class="n"><rect x="65" y="670" width="32" height="16" rx="1"/><text x="66.5" y="673.4">La reflexión docente</text><text x="66.5" y="676.6">sobre la práctica en el</text><text x="66.5" y="679.8">aula y sus efectos en</text><text x="66.5" y="683">el aprendizaje</text></g>
<g id="n149" class="n"><rect x="27" y="705" width="21" height="10" rx="1"/><text x="28.5" y="708.4">La práctica</text><text x="28.5" y="711.6">reflexiva</text></g>
<g id="n150" class="n"><rect x="7" y="727" width="58" height="21" rx="1"/><text x="8.5" y="730.4">La práctica reflexiva permite al docente</text><text x="8.5" y="733.6">analizar su práctica en el aula y transformarla</text><text x="8.5" y="736.8">para la mejora del aprendizaje de los alumnos,</text><text x="8.5" y="740">desde la reflexión en la acción y sobre la</text><text x="8.5" y="743.2">acción (2011, p. 180)</text></g>
<g id="n151" class="n"><rect x="27" y="768" width="18" height="5.5" rx="1"/><text x="28.5" y="772">La práctica</text></g>
<g id="n152" class="n"><rect x="43" y="782" width="40" height="20" rx="1"/><text x="44.5" y="785.4">La práctica reflexiva en el</text><text x="44.5" y="788.6">aula permite al docente mejorar</text><text x="44.5" y="791.8">su práctica y transformarla</text><text x="44.5" y="795">en beneficio de los alumnos</text><text x="44.5" y="798.2">(2011, p. 185)</text></g>
<g id="n153" class="n"><rect x="7" y="780" width="18" height="10" rx="1"/><text x="8.5" y="783.4">La acción</text><text x="8.5" y="786.6">docente</text></g>
<g id="n154" class="n"><rect x="27" y="790" width="14" height="10" rx="1"/><text x="28.5" y="793.4">Reflexión</text><text x="28.5" y="796.6">(2011)</text></g>
<g id="n155" class="n"><rect x="7" y="807" width="45" height="15" rx="1"/><text x="8.5" y="810.4">La práctica reflexiva en el aula</text><text x="8.5" y="813.6">y en la escuela, según los aportes</text><text x="8.5" y="816.8">de diversos autores</text><text x="8.5" y="820">(2011)</text></g>
<g id="n156" class="n"><rect x="83" y="723" width="14" height="10" rx="1"/><text x="84.5" y="726.4">Práctica</text><text x="84.5" y="729.6">docente</text></g>
<g id="n157" class="n"><rect x="223" y="730" width="15" height="10" rx="1"/><text x="224.5" y="733.4">Métodos y</text><text x="224.5" y="736.6">técnicas</text></g>
<g id="n158" class="n"><rect x="218" y="753" width="29" height="12" rx="1"/><text x="219.5" y="756.4">Los métodos de la</text><text x="219.5" y="759.6">investigación acción</text><text x="219.5" y="762.8">(2011)</text></g>
<g id="n159" class="n"><rect x="128" y="757" width="39" height="16" rx="1"/><text x="129.5" y="760.4">La investigación acción en el</text><text x="129.5" y="763.6">aula utiliza métodos cualitativos</text><text x="129.5" y="766.8">como la observación y la</text><text x="129.5" y="770">entrevista (2011, p. 190)</text></g>
<g id="n160" class="n"><rect x="172" y="775" width="13" height="8" rx="1"/><text x="173.5" y="778.4">Diario del</text><text x="173.5" y="781.6">docente</text></g>
<g id="n161" class="n"><rect x="205" y="776" width="8" height="6" rx="1"/><text x="205.8" y="780">Ciclo</text></g>
<g id="n162" class="n"><rect x="195" y="797" width="18" height="16" rx="1"/><text x="196.5" y="800.4">El ciclo de</text><text x="196.5" y="803.6">investigación</text><text x="196.5" y="806.8">acción</text><text x="196.5" y="810">(2011)</text></g>
<g id="n163" class="n"><rect x="125" y="787" width="42" height="15" rx="1"/><text x="126.5" y="790.4">La investigación acción implica</text><text x="126.5" y="793.6">un proceso de planificación,</text><text x="126.5" y="796.8">acción, observación y reflexión</text><text x="126.5" y="800">(2011, p. 195)</text></g>
<g id="n164" class="n"><rect x="128" y="816" width="37" height="14" rx="1"/><text x="129.5" y="819.4">La planificación y la acción</text><text x="129.5" y="822.6">en el aula como fases de la</text><text x="129.5" y="825.8">investigación acción</text></g>
<g id="n165" class="n"><rect x="188" y="832" width="40" height="17" rx="1"/><text x="189.5" y="835.4">La observación y la reflexión</text><text x="189.5" y="838.6">sobre la práctica docente en el</text><text x="189.5" y="841.8">aula como fases del ciclo</text><text x="189.5" y="845">(2011, p. 200)</text></g>
<g id="n166" class="n"><rect x="122" y="849" width="55" height="17" rx="1"/><text x="123.5" y="852.4">La investigación acción permite al docente</text><text x="123.5" y="855.6">mejorar su práctica y la calidad de la</text><text x="123.5" y="858.8">enseñanza en el aula y en la escuela,</text><text x="123.5" y="862">según diversos autores (2011, p. 205)</text></g>
<g id="n167" class="n"><rect x="253" y="744" width="16" height="7" rx="1"/><text x="254.5" y="748.5">Latorre 2003</text></g>
<g id="n168" class="n"><rect x="278" y="743" width="15" height="7" rx="1"/><text x="279.5" y="747.5">Elliott 2000</text></g>
<g id="n169" class="n"><rect x="315" y="733" width="17" height="6" rx="1"/><text x="316.5" y="737">Kemmis 1988</text></g>
<g id="n170" class="n"><rect x="243" y="770" width="37" height="18" rx="1"/><text x="244.5" y="773.4">La investigación acción en la</text><text x="244.5" y="776.6">escuela es un proceso de</text><text x="244.5" y="779.8">reflexión colectiva de los</text><text x="244.5" y="783">docentes (Latorre, 2003)</text></g>
<g id="n171" class="n o"><rect x="287" y="762" width="74" height="20" rx="1"/><text x="288.5" y="765.4">La investigación acción es una forma de indagación</text><text x="288.5" y="768.6">autorreflexiva que emprenden los participantes en</text><text x="288.5" y="771.8">situaciones sociales para mejorar la racionalidad y</text><text x="288.5" y="775">la justicia de sus propias prácticas y su comprensión</text><text x="288.5" y="778.2">de las mismas (Elliott, 2000, p. 88)</text></g>
<g id="n172" class="n"><rect x="342" y="743" width="38" height="19" rx="1"/><text x="343.5" y="746.4">La investigación acción se</text><text x="343.5" y="749.6">caracteriza por ser</text><text x="343.5" y="752.8">participativa y crítica</text><text x="343.5" y="756">(Kemmis, 1988, p. 55)</text><text x="343.5" y="759.2">(2011)</text></g>
<g id="n173" class="n"><rect x="350" y="787" width="30" height="15" rx="1"/><text x="351.5" y="790.4">Aspectos de la</text><text x="351.5" y="793.6">investigación acción</text><text x="351.5" y="796.8">en el aula y en</text><text x="351.5" y="800">la escuela (2011)</text></g>
<g id="n174" class="n"><rect x="256" y="791" width="57" height="17" rx="1"/><text x="257.5" y="794.4">La investigación acción en la práctica docente</text><text x="257.5" y="797.6">implica un proceso de reflexión y de cambio,</text><text x="257.5" y="800.8">y de mejora de la práctica en el aula</text><text x="257.5" y="804">(Latorre, 2003, p. 60)</text></g>
<g id="n175" class="n"><rect x="286" y="818" width="12" height="10" rx="1"/><text x="287.5" y="821.4">Práctica</text><text x="287.5" y="824.6">(2011)</text></g>
<g id="tag6"><rect class="tag" x="296" y="821" width="3.5" height="5"/></g>
<g id="n176" class="n"><rect x="339" y="814" width="16" height="9" rx="1"/><text x="340.5" y="817.4">Reflexión</text><text x="340.5" y="820.6">(2011)</text></g>
<g id="n177" class="n"><rect x="272" y="843" width="40" height="16" rx="1"/><text x="273.5" y="846.4">La práctica docente es objeto</text><text x="273.5" y="849.6">de investigación y reflexión</text><text x="273.5" y="852.8">por parte del docente</text><text x="273.5" y="856">(2011, p. 210)</text></g>
<g id="n178" class="n"><rect x="324" y="838" width="46" height="19" rx="1"/><text x="325.5" y="841.4">La reflexión sobre la práctica permite</text><text x="325.5" y="844.6">al docente aprender de la experiencia</text><text x="325.5" y="847.8">y mejorar su práctica en el aula</text><text x="325.5" y="851">(2011, p. 215)</text></g>
<g id="n179" class="n y"><rect x="271" y="874" width="41" height="9" rx="1"/><text x="272.5" y="877.4">El docente "investigador de</text><text x="272.5" y="880.6">la práctica" en el aula (2011)</text></g>
<g id="n180" class="n"><rect x="327" y="872" width="53" height="16" rx="1"/><text x="328.5" y="875.4">La investigación de la práctica permite al</text><text x="328.5" y="878.6">docente mejorar su enseñanza y el aprendizaje</text><text x="328.5" y="881.8">de los alumnos en el aula y la escuela</text><text x="328.5" y="885">(2011, p. 220)</text></g>
<g id="n181" class="n"><rect x="382" y="840" width="41" height="17" rx="1"/><text x="383.5" y="843.4">La investigación de la práctica</text><text x="383.5" y="846.6">docente en el aula y la mejora</text><text x="383.5" y="849.8">de la calidad de la enseñanza</text><text x="383.5" y="853">(2011, p. 225)</text></g>
<g id="n182" class="n"><rect x="173" y="904" width="20" height="9" rx="1"/><text x="174.5" y="907.4">Proyecto</text><text x="174.5" y="910.6">docente (2011)</text></g>

<g id="n183" class="n"><rect x="405" y="652" width="17" height="10" rx="1"/><text x="406.5" y="655.4">Stenhouse</text><text x="406.5" y="658.6">(1987)</text></g>
<g id="n184" class="n"><rect x="492" y="600" width="53" height="22" rx="1"/><text x="493.5" y="603.4">La investigación de la práctica docente</text><text x="493.5" y="606.6">según Stenhouse permite al docente</text><text x="493.5" y="609.8">convertirse en investigador de su propia</text><text x="493.5" y="613">práctica en el aula (1987, p. 30)</text><text x="493.5" y="616.2">(2011)</text></g>
<g id="tag7"><rect class="tag" x="540" y="616" width="4" height="4"/></g>
<g id="n185" class="n"><rect x="505" y="640" width="27" height="9" rx="1"/><text x="506.5" y="643.4">Stenhouse (1987)</text><text x="506.5" y="646.6">y Elliott (2000)</text></g>
<g id="n186" class="n"><rect x="553" y="615" width="37" height="23" rx="1"/><text x="554.5" y="618.4">El docente investigador es</text><text x="554.5" y="621.6">quien investiga su práctica</text><text x="554.5" y="624.8">en el aula para la mejora de</text><text x="554.5" y="628">la enseñanza y del aprendizaje</text><text x="554.5" y="631.2">de los alumnos</text><text x="554.5" y="634.4">(1987, p. 45)</text></g>
<g id="n187" class="n"><rect x="565" y="652" width="25" height="10" rx="1"/><text x="566.5" y="655.4">El docente como</text><text x="566.5" y="658.6">investigador (1987)</text></g>
<g id="n188" class="n"><rect x="551" y="555" width="73" height="25" rx="1"/><text x="552.5" y="558.4">La investigación educativa según Stenhouse se orienta</text><text x="552.5" y="561.6">a la mejora de la práctica docente en el aula, mediante</text><text x="552.5" y="564.8">la reflexión y el análisis crítico de la práctica por parte</text><text x="552.5" y="568">de los docentes, quienes se convierten en investigadores</text><text x="552.5" y="571.2">de su propia práctica en el aula y en la escuela</text><text x="552.5" y="574.4">(Stenhouse, 1987, p. 55)</text></g>
<g id="n189" class="n"><rect x="575" y="595" width="27" height="9" rx="1"/><text x="576.5" y="598.4">Stenhouse (1987)</text><text x="576.5" y="601.6">y Elliott (2000)</text></g>
<g id="n190" class="n"><rect x="625" y="555" width="73" height="28" rx="1"/><text x="626.5" y="558.4">La investigación de la práctica docente en la escuela</text><text x="626.5" y="561.6">implica la participación de los docentes en el proceso</text><text x="626.5" y="564.8">de investigación, la reflexión colectiva, el trabajo</text><text x="626.5" y="568">colaborativo y el análisis de los problemas del aula,</text><text x="626.5" y="571.2">con el fin de mejorar la enseñanza y el aprendizaje</text><text x="626.5" y="574.4">de los alumnos (Elliott, 2000, p. 60)</text><text x="626.5" y="577.6">(2011)</text></g>
<g id="n191" class="n"><rect x="623" y="606" width="75" height="15" rx="1"/><text x="624.5" y="609.4">La investigación acción en la escuela permite la mejora de</text><text x="624.5" y="612.6">la práctica docente y de la calidad de la enseñanza en el</text><text x="624.5" y="615.8">aula, mediante la reflexión colectiva (Elliott, 2000, p. 65)</text></g>
<g id="n192" class="n"><rect x="651" y="637" width="18" height="10" rx="1"/><text x="652.5" y="640.4">Elliott (2000)</text><text x="652.5" y="643.6">(p. 70)</text></g>
<g id="n193" class="n"><rect x="714" y="561" width="76" height="22" rx="1"/><text x="715.5" y="564.4">La investigación de la práctica docente en el aula (2011)</text><text x="715.5" y="567.6">y la mejora de la enseñanza y del aprendizaje de los</text><text x="715.5" y="570.8">alumnos en la escuela, mediante la reflexión y el trabajo</text><text x="715.5" y="574">colaborativo de los docentes (2011, p. 230)</text></g>
<g id="n194" class="n"><rect x="809" y="564" width="78" height="21" rx="1"/><text x="810.5" y="567.4">La mejora de la práctica docente en el aula se relaciona con la</text><text x="810.5" y="570.6">investigación de la práctica, la reflexión crítica y el trabajo</text><text x="810.5" y="573.8">colaborativo de los docentes, quienes se convierten en</text><text x="810.5" y="577">investigadores de su propia práctica (2011, p. 235)</text></g>
<g id="n195" class="n"><rect x="792" y="593" width="53" height="17" rx="1"/><text x="793.5" y="596.4">La investigación de la práctica implica</text><text x="793.5" y="599.6">la reflexión y el análisis de la práctica</text><text x="793.5" y="602.8">en el aula para mejorar la enseñanza</text><text x="793.5" y="606">(2011, p. 240)</text></g>
<g id="n196" class="n"><rect x="767" y="616" width="31" height="13" rx="1"/><text x="768.5" y="619.4">La práctica docente en</text><text x="768.5" y="622.6">el aula y la reflexión</text><text x="768.5" y="625.8">(2011)</text></g>
<g id="n197" class="n"><rect x="733" y="634" width="38" height="13" rx="1"/><text x="734.5" y="637.4">La reflexión sobre la práctica</text><text x="734.5" y="640.6">docente en la escuela</text><text x="734.5" y="643.8">(2011, p. 245)</text></g>
<g id="n198" class="n"><rect x="603" y="660" width="89" height="17" rx="1"/><text x="604.5" y="663.4">La investigación de la práctica docente en el aula se relaciona con la</text><text x="604.5" y="666.6">reflexión sobre la acción y en la acción, según Schön, y con la</text><text x="604.5" y="669.8">investigación acción, según Elliott y Kemmis, quienes plantean que</text><text x="604.5" y="673">el docente investigador mejora su práctica (2011, p. 250)</text></g>
<g id="n199" class="n"><rect x="602" y="690" width="91" height="25" rx="1"/><text x="603.5" y="693.4">La investigación de la práctica docente en la escuela implica la</text><text x="603.5" y="696.6">participación de los docentes, la reflexión colectiva, el trabajo</text><text x="603.5" y="699.8">colaborativo, el análisis de los problemas del aula y la búsqueda de</text><text x="603.5" y="703">soluciones, en un proceso cíclico de planificación, acción, observación</text><text x="603.5" y="706.2">y reflexión que permite al docente mejorar su práctica y transformar</text><text x="603.5" y="709.4">la realidad educativa del aula y de la escuela (2011, p. 255)</text></g>
<g id="n200" class="n"><rect x="640" y="733" width="15" height="11" rx="1"/><text x="641.5" y="736.4">Latorre</text><text x="641.5" y="739.6">(2003)</text></g>
<g id="n201" class="n"><rect x="707" y="681" width="26" height="8" rx="1"/><text x="708.5" y="684.4">Elliott y Kemmis</text><text x="708.5" y="687.6">(2000)</text></g>
<g id="n202" class="n"><rect x="757" y="674" width="42" height="21" rx="1"/><text x="758.5" y="677.4">Las técnicas de la investigación</text><text x="758.5" y="680.6">acción en el aula son la</text><text x="758.5" y="683.8">observación, la entrevista, el</text><text x="758.5" y="687">diario del docente y el análisis</text><text x="758.5" y="690.2">de documentos (2011)</text></g>
<g id="n203" class="n"><rect x="808" y="666" width="57" height="35" rx="1"/><text x="809.5" y="669.4">Las técnicas de recogida de datos:</text><text x="809.5" y="672.6">1. La observación participante</text><text x="809.5" y="675.8">2. La entrevista en profundidad</text><text x="809.5" y="679">3. El diario del docente en el aula</text><text x="809.5" y="682.2">4. El análisis de documentos</text><text x="809.5" y="685.4">5. Los grupos de discusión</text><text x="809.5" y="688.6">6. Los cuestionarios abiertos</text><text x="809.5" y="691.8">7. Las grabaciones de clase</text><text x="809.5" y="695">8. Las notas de campo del docente</text><text x="809.5" y="698.2">(Latorre, 2003, p. 70)</text></g>

<g id="n204" class="n"><rect x="439" y="667" width="58" height="20" rx="1"/><text x="440.5" y="670.4">La práctica docente mediada por las TIC</text><text x="440.5" y="673.6">permite al docente innovar y mejorar la</text><text x="440.5" y="676.8">enseñanza y el aprendizaje de los alumnos</text><text x="440.5" y="680">en la escuela (2011, p. 260)</text><text x="440.5" y="683.2">(2014)</text></g>
<g id="n205" class="n"><rect x="514" y="666" width="51" height="22" rx="1"/><text x="515.5" y="669.4">Las TIC en el aula como herramienta de</text><text x="515.5" y="672.6">mejora de la práctica docente y de la</text><text x="515.5" y="675.8">innovación educativa en la escuela, según</text><text x="515.5" y="679">diversos autores del campo educativo</text><text x="515.5" y="682.2">(2014, p. 60)</text></g>
<g id="n206" class="n"><rect x="475" y="692" width="43" height="18" rx="1"/><text x="476.5" y="695.4">La formación del docente en el</text><text x="476.5" y="698.6">uso de las TIC en el aula y en</text><text x="476.5" y="701.8">la escuela (2014, p. 65)</text></g>
<g id="n207" class="n"><rect x="458" y="712" width="17" height="10" rx="1"/><text x="459.5" y="715.4">Las TIC en</text><text x="459.5" y="718.6">el aula</text></g>
<g id="n208" class="n"><rect x="387" y="708" width="48" height="12" rx="1"/><text x="388.5" y="711.4">La práctica docente y el uso de las TIC</text><text x="388.5" y="714.6">en el aula (2014, p. 70)</text></g>
<g id="n209" class="n"><rect x="460" y="738" width="17" height="10" rx="1"/><text x="461.5" y="741.4">Las TIC</text><text x="461.5" y="744.6">(2014)</text></g>
<g id="n210" class="n"><rect x="443" y="763" width="47" height="25" rx="1"/><text x="444.5" y="766.4">La integración de las TIC en la</text><text x="444.5" y="769.6">práctica docente en el aula permite</text><text x="444.5" y="772.8">la innovación educativa y la mejora</text><text x="444.5" y="776">de la enseñanza y del aprendizaje</text><text x="444.5" y="779.2">en la escuela, según diversos autores</text><text x="444.5" y="782.4">(2014, p. 75)</text></g>
<g id="n211" class="n"><rect x="456" y="803" width="22" height="14" rx="1"/><text x="457.5" y="806.4">Las TIC en la</text><text x="457.5" y="809.6">práctica docente</text><text x="457.5" y="812.8">(2014)</text></g>
<g id="n212" class="n"><rect x="440" y="828" width="55" height="22" rx="1"/><text x="441.5" y="831.4">Las TIC en la escuela:</text><text x="441.5" y="834.6">- Herramientas de la práctica docente</text><text x="441.5" y="837.8">- Recursos para el aprendizaje en el aula</text><text x="441.5" y="841">- Innovación educativa en la escuela</text><text x="441.5" y="844.2">- Formación del docente en las TIC (2014)</text></g>
<g id="n213" class="n"><rect x="526" y="691" width="27" height="7" rx="1"/><text x="527.5" y="695.5">Las TIC en el aula</text></g>
<g id="n214" class="n"><rect x="555" y="697" width="25" height="10" rx="1"/><text x="556.5" y="700.4">Herramientas de</text><text x="556.5" y="703.6">las TIC (2014)</text></g>
<g id="n215" class="n"><rect x="555" y="713" width="25" height="14" rx="1"/><text x="556.5" y="716.4">La innovación</text><text x="556.5" y="719.6">educativa en la</text><text x="556.5" y="722.8">escuela (2014)</text></g>
<g id="n216" class="n"><rect x="503" y="725" width="20" height="10" rx="1"/><text x="504.5" y="728.4">La práctica</text><text x="504.5" y="731.6">docente</text></g>
<g id="n217" class="n"><rect x="533" y="725" width="13" height="10" rx="1"/><text x="534.5" y="728.4">Las TIC</text><text x="534.5" y="731.6">(2014)</text></g>
<g id="n218" class="n"><rect x="560" y="728" width="30" height="10" rx="1"/><text x="561.5" y="731.4">El uso de las TIC en la</text><text x="561.5" y="734.6">escuela (2014)</text></g>
<g id="n219" class="n"><rect x="523" y="748" width="34" height="13" rx="1"/><text x="524.5" y="751.4">Las TIC permiten a los</text><text x="524.5" y="754.6">docentes innovar en el</text><text x="524.5" y="757.8">aula (2014)</text></g>
<g id="n220" class="n"><rect x="557" y="757" width="43" height="15" rx="1"/><text x="558.5" y="760.4">El uso de las TIC en el aula</text><text x="558.5" y="763.6">mejora la motivación de los</text><text x="558.5" y="766.8">alumnos y el aprendizaje</text><text x="558.5" y="770">(2014, p. 80)</text></g>
<g id="n221" class="n"><rect x="495" y="766" width="35" height="14" rx="1"/><text x="496.5" y="769.4">Las TIC como recursos</text><text x="496.5" y="772.6">de la práctica docente</text><text x="496.5" y="775.8">en el aula (2014)</text></g>
<g id="n222" class="n"><rect x="556" y="775" width="27" height="9" rx="1"/><text x="557.5" y="778.4">Las TIC en la</text><text x="557.5" y="781.6">escuela (2014)</text></g>
<g id="n223" class="n"><rect x="508" y="783" width="35" height="11" rx="1"/><text x="509.5" y="786.4">La formación en las TIC</text><text x="509.5" y="789.6">del docente (2014)</text></g>
<g id="n224" class="n"><rect x="544" y="787" width="23" height="10" rx="1"/><text x="545.5" y="790.4">Innovación con</text><text x="545.5" y="793.6">las TIC (2014)</text></g>
<g id="n225" class="n"><rect x="512" y="805" width="15" height="10" rx="1"/><text x="513.5" y="808.4">Los</text><text x="513.5" y="811.6">docentes</text></g>
<g id="n226" class="n"><rect x="543" y="803" width="12" height="9" rx="1"/><text x="544" y="806.4">Las TIC</text><text x="544" y="809.6">(2014)</text></g>
<g id="n227" class="n"><rect x="573" y="802" width="40" height="15" rx="1"/><text x="574.5" y="805.4">El uso de las TIC en el aula</text><text x="574.5" y="808.6">permite la innovación y la</text><text x="574.5" y="811.8">mejora de la práctica docente</text><text x="574.5" y="815">(2014, p. 85)</text></g>
<g id="n228" class="n"><rect x="512" y="828" width="18" height="9" rx="1"/><text x="513.5" y="831.4">Cabero</text><text x="513.5" y="834.6">(2014)</text></g>
<g id="n229" class="n"><rect x="637" y="786" width="37" height="10" rx="1"/><text x="638.5" y="789.4">La innovación educativa en el</text><text x="638.5" y="792.6">aula con las TIC (2014)</text></g>
<g id="n230" class="n"><rect x="630" y="803" width="56" height="12" rx="1"/><text x="631.5" y="806.4">El docente con las TIC en el aula mejora</text><text x="631.5" y="809.6">la práctica y la enseñanza (2014, p. 90)</text></g>
<g id="n231" class="n"><rect x="633" y="820" width="52" height="18" rx="1"/><text x="634.5" y="823.4">La formación docente en las TIC permite</text><text x="634.5" y="826.6">la innovación en la práctica en el aula y la</text><text x="634.5" y="829.8">mejora del aprendizaje de los alumnos en</text><text x="634.5" y="833">la escuela (2014, p. 95)</text></g>
<g id="n232" class="n"><rect x="723" y="800" width="48" height="15" rx="1"/><text x="724.5" y="803.4">Las TIC y la innovación educativa en</text><text x="724.5" y="806.6">la práctica docente en el aula y en la</text><text x="724.5" y="809.8">escuela (2014, p. 100)</text></g>
<g id="n233" class="n"><rect x="465" y="896" width="18" height="9" rx="1"/><text x="466.5" y="899.4">Los</text><text x="466.5" y="902.6">docentes</text></g>
<g id="n234" class="n"><rect x="500" y="892" width="39" height="18" rx="1"/><text x="501.5" y="895.4">La práctica docente en la</text><text x="501.5" y="898.6">escuela se desarrolla en el aula</text><text x="501.5" y="901.8">con la participación de los</text><text x="501.5" y="905">alumnos (2011, p. 265)</text></g>
<g id="n235" class="n"><rect x="508" y="870" width="25" height="10" rx="1"/><text x="509.5" y="873.4">La práctica del</text><text x="509.5" y="876.6">docente (2011)</text></g>
<g id="n236" class="n dk"><rect x="551" y="871" width="23" height="9" rx="1"/><text x="552.5" y="874.4">La reflexión</text><text x="552.5" y="877.6">docente (2011)</text></g>
<g id="n237" class="n"><rect x="583" y="864" width="33" height="21" rx="1"/><text x="584.5" y="867.4">La práctica docente en la</text><text x="584.5" y="870.6">escuela y en el aula según</text><text x="584.5" y="873.8">diversos autores del</text><text x="584.5" y="877">campo educativo</text><text x="584.5" y="880.2">(2011, p. 270)</text></g>
<g id="n238" class="n"><rect x="586" y="903" width="67" height="17" rx="1"/><text x="587.5" y="906.4">La práctica docente en el aula, según diversos autores,</text><text x="587.5" y="909.6">se relaciona con la reflexión, la investigación y la mejora</text><text x="587.5" y="912.8">de la enseñanza y del aprendizaje de los alumnos en la</text><text x="587.5" y="916">escuela y en el aula (2011, p. 275)</text></g>
</svg>
